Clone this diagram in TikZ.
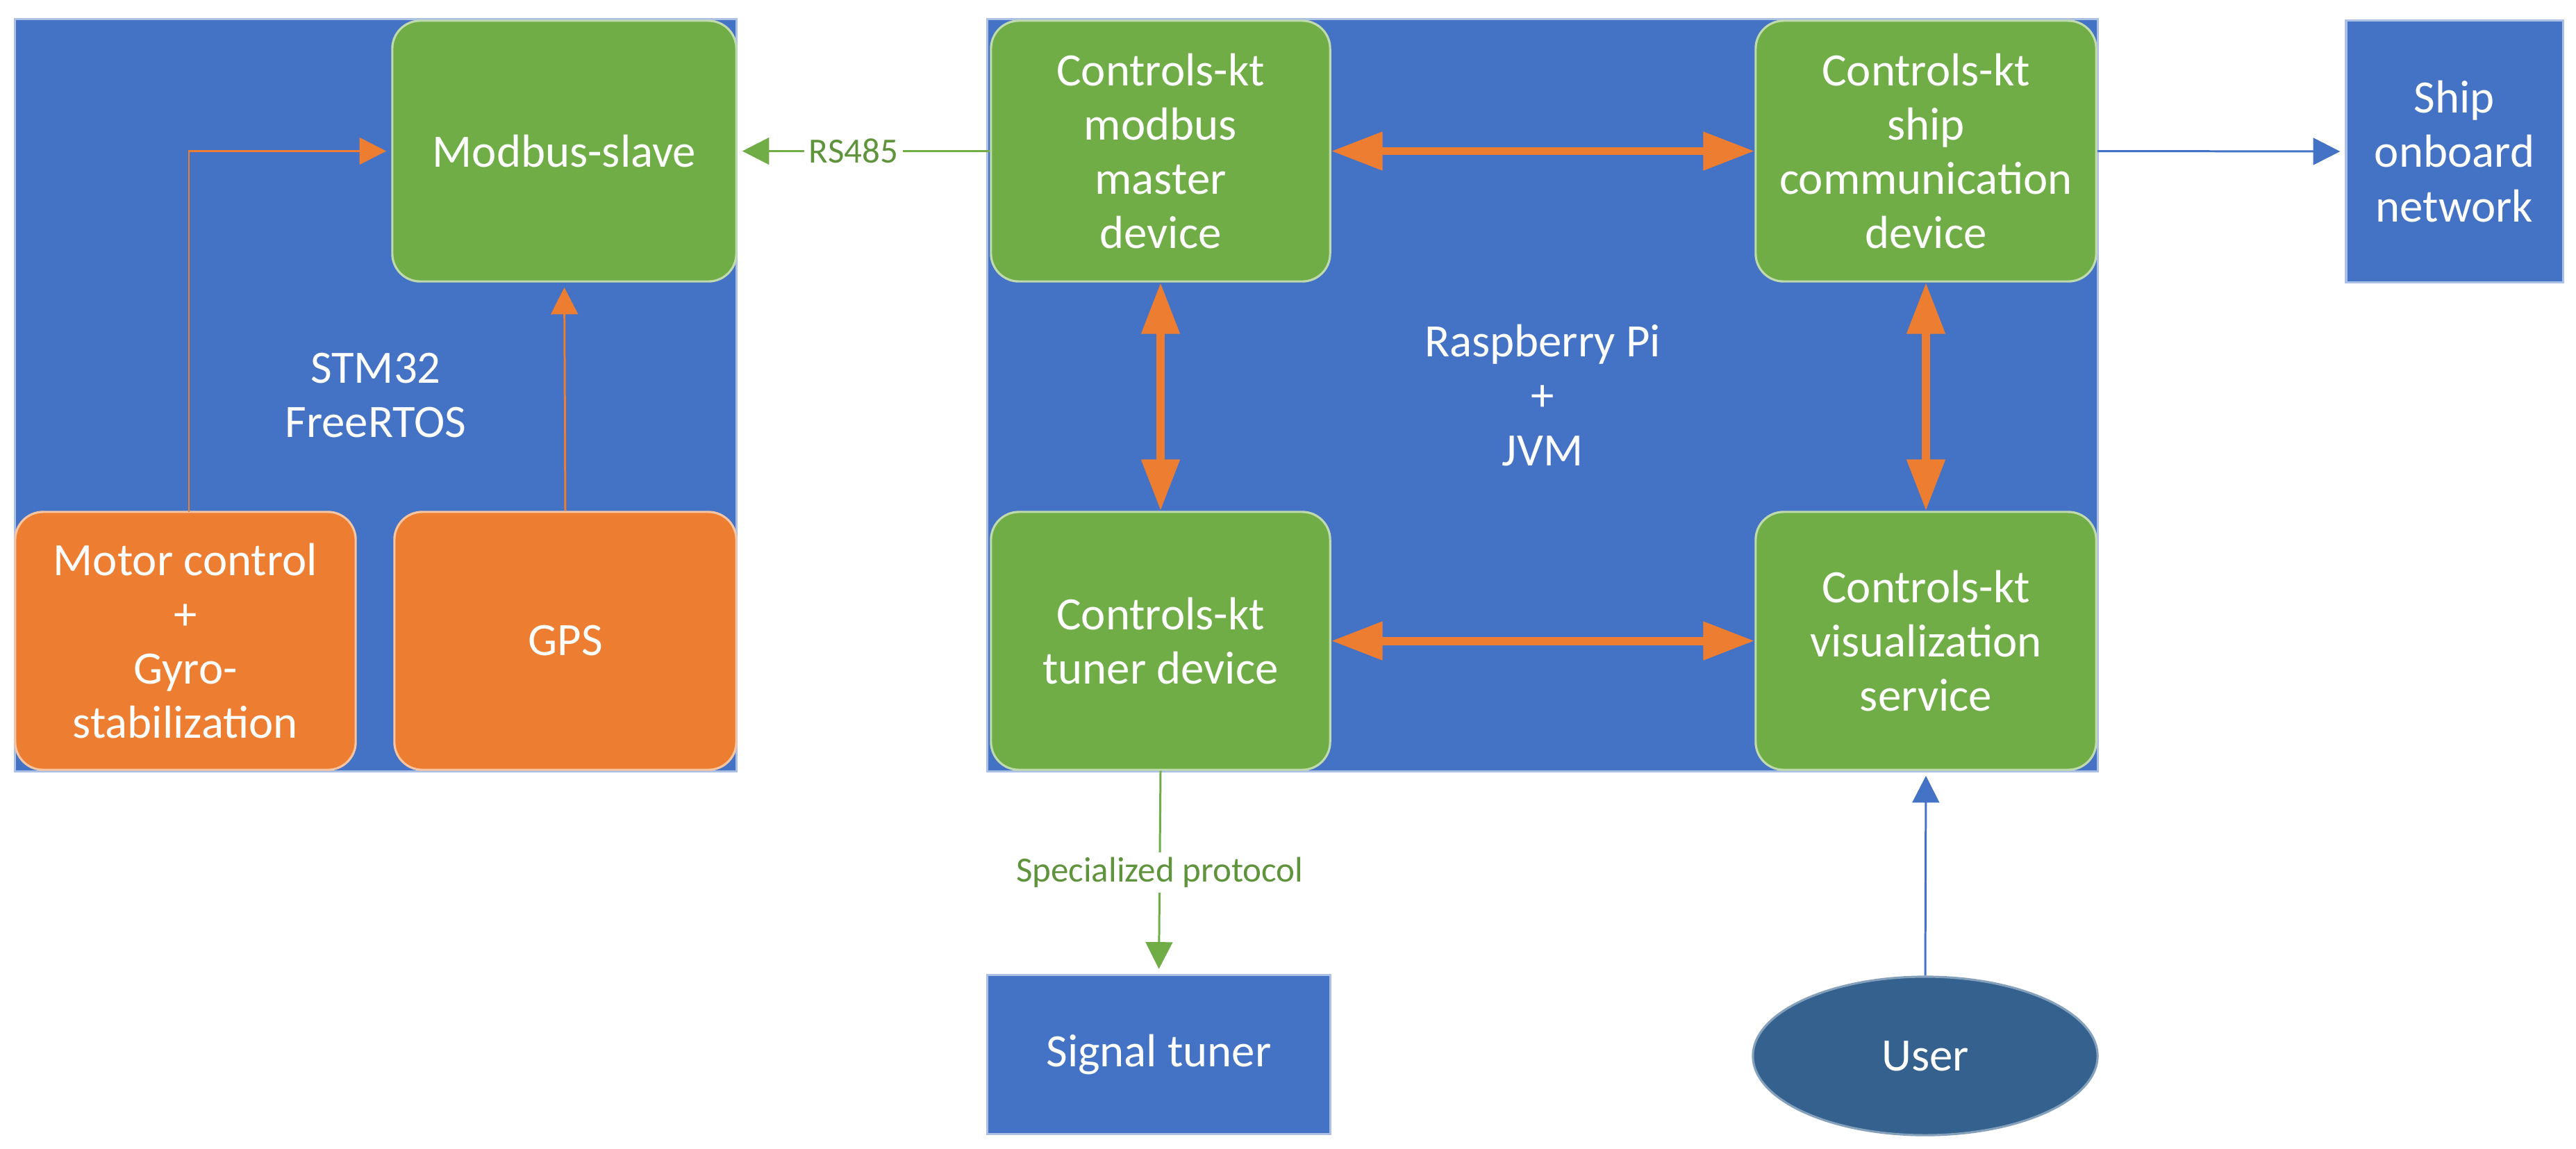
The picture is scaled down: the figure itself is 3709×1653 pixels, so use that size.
\documentclass[tikz,border=0pt]{standalone}
\usepackage{fontspec}
\setmainfont{Carlito}
\usetikzlibrary{arrows.meta,shapes.geometric}
\definecolor{oblue}{HTML}{4472C4}
\definecolor{ogreen}{HTML}{70AD47}
\definecolor{oorange}{HTML}{ED7D31}
\definecolor{udark}{HTML}{34618D}
\tikzset{
  base/.style={rectangle, inner sep=0pt, align=center, text=white,
    font=\fontsize{19}{22.2}\selectfont, line width=0.9pt},
  bluebox/.style={base, fill=oblue, draw=oblue!45!white},
  greenbox/.style={base, fill=ogreen, draw=ogreen!45!white, rounded corners=0.4cm},
  orangebox/.style={base, fill=oorange, draw=oorange!45!white, rounded corners=0.4cm},
  userell/.style={base, ellipse, fill=udark, draw=udark!60!white},
  thinarr/.style={line width=0.85pt, -{Triangle[width=11pt,length=11pt]}, shorten >=2pt},
  fatarr/.style={draw=oorange, line width=3.4pt,
    {Triangle[width=15pt,length=21pt]}-{Triangle[width=15pt,length=21pt]}},
  lbl/.style={fill=white, inner sep=2pt, font=\fontsize{14.5}{17}\selectfont, text=ogreen!85!black}
}
\begin{document}
\begin{tikzpicture}[x=0.01cm, y=-0.01cm]
\useasboundingbox (0,0) rectangle (3709,1653);
\fill[white] (0,0) rectangle (3709,1653);

% STM32 block
\node[bluebox, minimum width=10.38cm, minimum height=10.82cm] (stm) at (541,569) {STM32\\FreeRTOS};
\node[greenbox, minimum width=4.95cm, minimum height=3.75cm] (slave) at (812.5,217.5) {Modbus-slave};
\node[orangebox, minimum width=4.90cm, minimum height=3.71cm] (motor) at (267,922.5) {Motor control\\+\\Gyro-\\stabilization};
\node[orangebox, minimum width=4.92cm, minimum height=3.71cm] (gps) at (814,922.5) {GPS};
\coordinate (motortop) at (272,737);

% Raspberry Pi block
\node[bluebox, minimum width=15.98cm, minimum height=10.82cm] (rpi) at (2221,569) {Raspberry Pi\\+\\JVM};
\node[greenbox, minimum width=4.88cm, minimum height=3.75cm] (master) at (1671,217.5) {Controls-kt\\modbus\\master\\device};
\node[greenbox, minimum width=4.90cm, minimum height=3.75cm] (shipdev) at (2773,217.5) {Controls-kt\\ship\\communication\\device};
\node[greenbox, minimum width=4.88cm, minimum height=3.71cm] (tunerdev) at (1671,922.5) {Controls-kt\\tuner device};
\node[greenbox, minimum width=4.90cm, minimum height=3.71cm] (vis) at (2773,922.5) {Controls-kt\\visualization\\service};

% external nodes
\node[bluebox, minimum width=3.12cm, minimum height=3.77cm] (net) at (3534,218) {Ship\\onboard\\network};
\node[bluebox, minimum width=4.93cm, minimum height=2.29cm] (tuner) at (1668.5,1518) {Signal tuner};
\node[userell, minimum width=4.96cm, minimum height=2.28cm] (user) at (2772,1520) {User};

% connectors inside STM32
\draw[thinarr, draw=oorange] (motortop) |- (slave.west);
\draw[thinarr, draw=oorange] (gps.north) -- (slave.south);

% connectors
\draw[thinarr, draw=ogreen] (master.west) -- node[lbl, pos=0.54] {RS485} (slave.east);
\draw[thinarr, draw=oblue] (shipdev.east) -- (net.west);
\draw[thinarr, draw=ogreen] (tunerdev.south) -- node[lbl, midway] {Specialized protocol} (tuner.north);
\draw[thinarr, draw=oblue] (user.north) -- (vis.south);

% thick bidirectional arrows
\draw[fatarr] (master.east) -- (shipdev.west);
\draw[fatarr] (tunerdev.east) -- (vis.west);
\draw[fatarr] (master.south) -- (tunerdev.north);
\draw[fatarr] (shipdev.south) -- (vis.north);
\end{tikzpicture}
\end{document}
